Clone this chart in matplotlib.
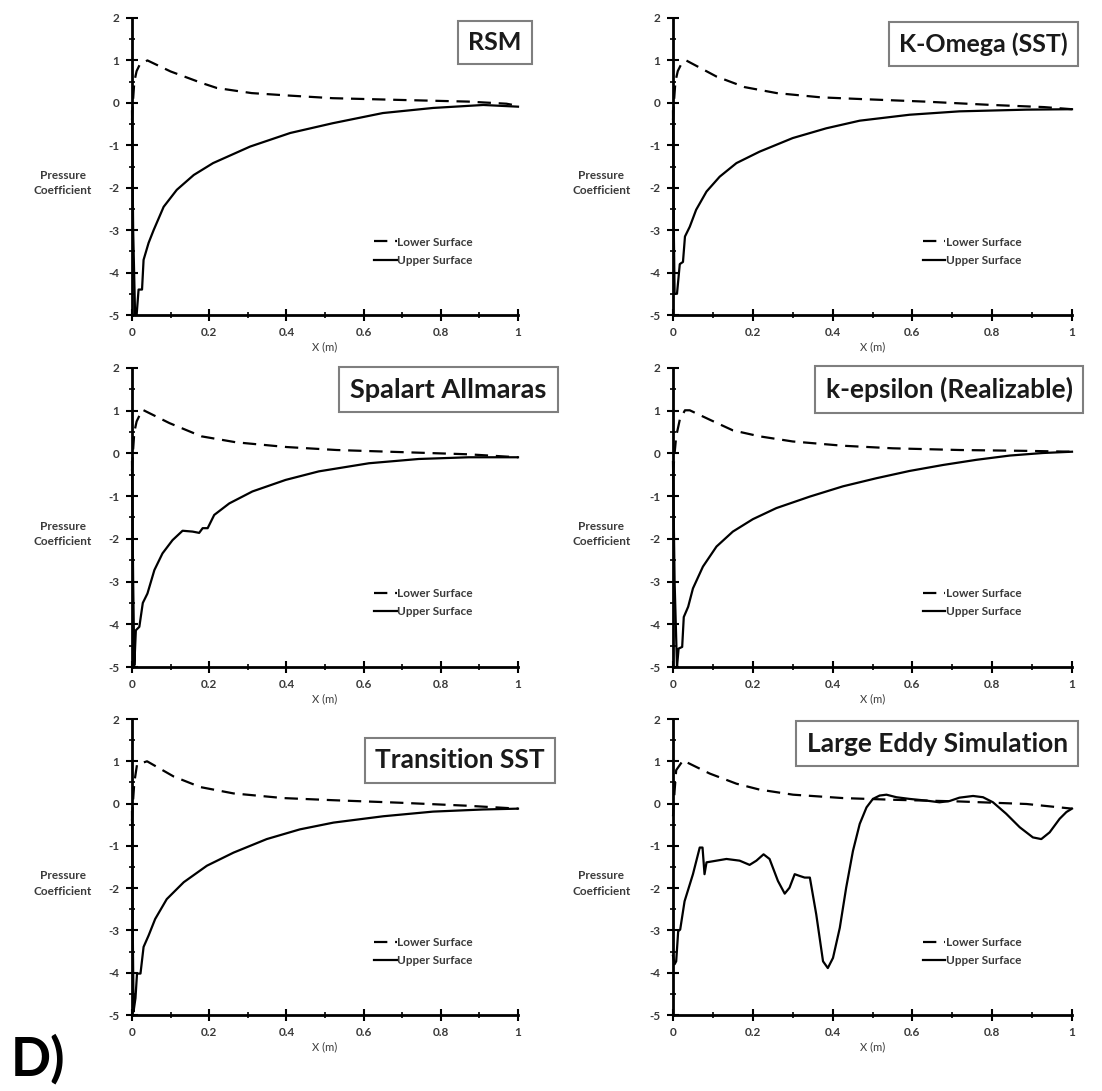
import matplotlib
matplotlib.use("Agg")
import matplotlib.pyplot as plt
from matplotlib.ticker import MultipleLocator, FuncFormatter

plt.rcParams["font.family"] = ["Lato", "DejaVu Sans"]
plt.rcParams["font.weight"] = "bold"

TXT = "#3a3a3a"

# ---- data (x in m, Cp) ----
rsm_lower_x = [0.0, 0.003, 0.006, 0.012, 0.02, 0.04, 0.1, 0.18, 0.22, 0.31, 0.41, 0.52, 0.69, 0.87, 0.97, 1.0]
rsm_lower_y = [-0.4, 0.1, 0.5, 0.75, 0.9, 1.0, 0.74, 0.47, 0.35, 0.23, 0.17, 0.11, 0.07, 0.03, -0.02, -0.07]
rsm_upper_x = [0.0, 0.003, 0.008, 0.012, 0.017, 0.026, 0.03, 0.043, 0.056, 0.082, 0.116, 0.16, 0.21, 0.306, 0.41, 0.52, 0.65, 0.78, 0.91, 1.0]
rsm_upper_y = [-0.2, -3.0, -5.0, -5.0, -4.4, -4.4, -3.7, -3.3, -3.0, -2.45, -2.05, -1.7, -1.42, -1.03, -0.71, -0.48, -0.24, -0.12, -0.05, -0.09]

kw_lower_x = [0.0, 0.003, 0.006, 0.012, 0.02, 0.033, 0.109, 0.18, 0.26, 0.37, 0.47, 0.63, 0.8, 0.93, 1.0]
kw_lower_y = [-0.4, 0.1, 0.5, 0.75, 0.9, 1.0, 0.62, 0.37, 0.23, 0.13, 0.09, 0.03, -0.05, -0.1, -0.15]
kw_upper_x = [0.0, 0.002, 0.004, 0.01, 0.017, 0.025, 0.03, 0.042, 0.058, 0.084, 0.117, 0.159, 0.217, 0.3, 0.384, 0.468, 0.593, 0.718, 0.886, 1.0]
kw_upper_y = [-0.2, -3.0, -4.5, -4.5, -3.8, -3.75, -3.15, -2.92, -2.52, -2.09, -1.74, -1.42, -1.15, -0.83, -0.6, -0.42, -0.28, -0.2, -0.16, -0.15]

sa_lower_x = [0.0, 0.003, 0.006, 0.012, 0.02, 0.028, 0.097, 0.18, 0.27, 0.4, 0.53, 0.7, 0.87, 1.0]
sa_lower_y = [-0.4, 0.1, 0.5, 0.75, 0.9, 1.02, 0.71, 0.4, 0.26, 0.15, 0.08, 0.03, -0.02, -0.09]
sa_upper_x = [0.0, 0.003, 0.006, 0.01, 0.019, 0.028, 0.04, 0.058, 0.079, 0.105, 0.131, 0.157, 0.174, 0.183, 0.196, 0.213,
              0.252, 0.312, 0.398, 0.484, 0.614, 0.743, 0.872, 1.0]
sa_upper_y = [-0.2, -3.0, -4.96, -4.14, -4.06, -3.5, -3.28, -2.73, -2.34, -2.03, -1.81, -1.83, -1.86, -1.75, -1.75, -1.44,
              -1.17, -0.89, -0.62, -0.42, -0.23, -0.13, -0.09, -0.09]

ke_lower_x = [0.0, 0.004, 0.008, 0.017, 0.03, 0.042, 0.092, 0.15, 0.217, 0.3, 0.426, 0.551, 0.718, 0.886, 1.0]
ke_lower_y = [-0.5, 0.0, 0.4, 0.79, 1.01, 1.01, 0.79, 0.54, 0.4, 0.28, 0.18, 0.12, 0.08, 0.06, 0.04]
ke_upper_x = [0.0, 0.004, 0.01, 0.014, 0.023, 0.027, 0.038, 0.05, 0.075, 0.109, 0.15, 0.2, 0.259, 0.343, 0.426, 0.51,
              0.593, 0.677, 0.76, 0.844, 0.927, 1.0]
ke_upper_y = [-0.2, -3.0, -5.0, -4.57, -4.53, -3.83, -3.59, -3.16, -2.65, -2.18, -1.83, -1.54, -1.28, -1.01, -0.77, -0.58,
              -0.41, -0.27, -0.15, -0.05, 0.01, 0.04]

tr_lower_x = [0.0, 0.003, 0.006, 0.013, 0.039, 0.108, 0.177, 0.263, 0.392, 0.52, 0.694, 0.866, 1.0]
tr_lower_y = [-0.4, 0.1, 0.5, 0.92, 1.0, 0.64, 0.39, 0.24, 0.13, 0.08, 0.02, -0.05, -0.12]
tr_upper_x = [0.0, 0.002, 0.004, 0.009, 0.013, 0.022, 0.03, 0.043, 0.06, 0.09, 0.134, 0.194, 0.263, 0.349, 0.435, 0.522,
              0.651, 0.78, 0.909, 1.0]
tr_upper_y = [-0.2, -3.0, -4.92, -4.6, -4.02, -4.02, -3.39, -3.12, -2.73, -2.26, -1.86, -1.47, -1.16, -0.84, -0.61, -0.45,
              -0.3, -0.19, -0.14, -0.12]

les_lower_x = [0.0, 0.004, 0.008, 0.025, 0.092, 0.159, 0.217, 0.301, 0.426, 0.551, 0.718, 0.886, 1.0]
les_lower_y = [-0.3, 0.3, 0.79, 1.02, 0.71, 0.47, 0.33, 0.21, 0.13, 0.09, 0.05, -0.01, -0.12]
les_upper_x = [0.0, 0.004, 0.008, 0.013, 0.018, 0.029, 0.05, 0.067, 0.074, 0.079, 0.084, 0.109, 0.134, 0.167, 0.192,
               0.209, 0.227, 0.242, 0.263, 0.28, 0.292, 0.305, 0.317, 0.33, 0.343, 0.359, 0.376, 0.388, 0.401, 0.418,
               0.434, 0.451, 0.468, 0.485, 0.501, 0.518, 0.535, 0.56, 0.593, 0.635, 0.668, 0.693, 0.718, 0.752,
               0.777, 0.802, 0.835, 0.869, 0.902, 0.923, 0.944, 0.969, 0.986, 1.0]
les_upper_y = [-3.6, -3.8, -3.73, -3.02, -2.98, -2.31, -1.67, -1.04, -1.04, -1.67, -1.39, -1.35, -1.31, -1.35, -1.45,
               -1.35, -1.2, -1.31, -1.83, -2.13, -1.99, -1.67, -1.71, -1.75, -1.75, -2.62, -3.73, -3.89, -3.65, -2.94,
               -1.99, -1.12, -0.48, -0.09, 0.11, 0.19, 0.21, 0.15, 0.11, 0.07, 0.03, 0.06, 0.14, 0.18,
               0.15, 0.03, -0.24, -0.56, -0.8, -0.84, -0.68, -0.36, -0.2, -0.12]

titles = ["RSM", "K-Omega (SST)", "Spalart Allmaras", "k-epsilon (Realizable)", "Transition SST", "Large Eddy Simulation"]
lowers = [(rsm_lower_x, rsm_lower_y), (kw_lower_x, kw_lower_y), (sa_lower_x, sa_lower_y),
          (ke_lower_x, ke_lower_y), (tr_lower_x, tr_lower_y), (les_lower_x, les_lower_y)]
uppers = [(rsm_upper_x, rsm_upper_y), (kw_upper_x, kw_upper_y), (sa_upper_x, sa_upper_y),
          (ke_upper_x, ke_upper_y), (tr_upper_x, tr_upper_y), (les_upper_x, les_upper_y)]

# title box centres, axes coords
title_pos = [(0.94, 0.919), (0.778, 0.912), (0.82, 0.928), (0.692, 0.928), (0.85, 0.86), (0.662, 0.916)]
title_size = [18, 18, 19.5, 19, 19, 19]

W, H = 1102, 1091
fig = plt.figure(figsize=(W / 100, H / 100), dpi=100)

cols = [(132, 518), (673, 1072)]
rows = [(18, 315), (368, 667), (719, 1015)]
fmt = FuncFormatter(lambda v, p: f"{v:g}")

for i, title in enumerate(titles):
    r, c = divmod(i, 2)
    x0, x1 = cols[c]
    t, b = rows[r]
    ax = fig.add_axes([x0 / W, 1 - b / H, (x1 - x0) / W, (b - t) / H])

    lx, ly = lowers[i]
    ux, uy = uppers[i]
    ax.plot(lx, ly, color="black", lw=1.6, ls=(0, (6, 3.5)), label="Lower Surface", clip_on=False)
    ax.plot(ux, uy, color="black", lw=1.6, label="Upper Surface", clip_on=False)

    ax.set_xlim(0, 1)
    ax.set_ylim(-5, 2)
    ax.spines["top"].set_visible(False)
    ax.spines["right"].set_visible(False)
    ax.spines["left"].set_linewidth(2)
    ax.spines["bottom"].set_linewidth(2)
    ax.xaxis.set_major_locator(MultipleLocator(0.2))
    ax.xaxis.set_minor_locator(MultipleLocator(0.1))
    ax.yaxis.set_major_locator(MultipleLocator(1))
    ax.yaxis.set_minor_locator(MultipleLocator(0.5))
    ax.xaxis.set_major_formatter(fmt)
    ax.yaxis.set_major_formatter(fmt)
    ax.tick_params(which="major", direction="inout", length=8, width=1.5, labelsize=8.5,
                   labelcolor=TXT, pad=5)
    ax.tick_params(which="minor", direction="inout", length=5, width=1.2)

    ax.set_xlabel("X (m)", fontsize=8, color=TXT, labelpad=2)
    ax.text(-0.18, 0.445, "Pressure\nCoefficient", transform=ax.transAxes, ha="center", va="center",
            fontsize=8.5, color=TXT, linespacing=1.5)

    tx, ty = title_pos[i]
    ax.text(tx, ty, title, transform=ax.transAxes, ha="center", va="center", fontsize=title_size[i],
            fontweight="bold", color="#1a1a1a",
            bbox=dict(boxstyle="square,pad=0.4", fc="white", ec="#7f7f7f", lw=1.5))

    leg = ax.legend(loc="center left", bbox_to_anchor=(0.6, 0.215), frameon=False, fontsize=8.5,
                    handlelength=1.9, handletextpad=0.05, labelspacing=0.6)
    for txt in leg.get_texts():
        txt.set_color(TXT)

fig.text(0.01, 1 - 1075 / H, "D)", fontsize=38, fontweight="bold", va="baseline", ha="left")

fig.savefig("out.png", dpi=100)
